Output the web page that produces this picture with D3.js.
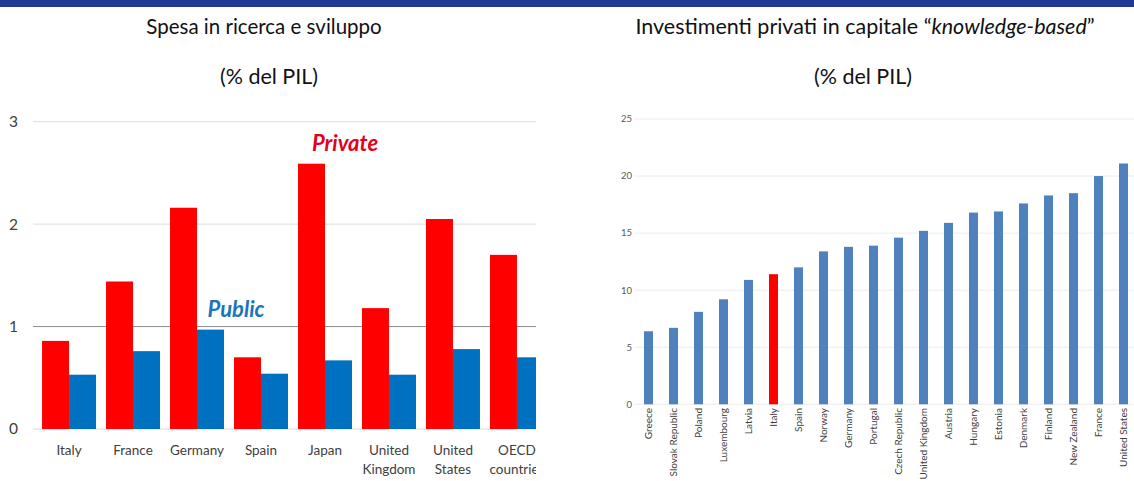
<!DOCTYPE html>
<html>
<head>
<meta charset="utf-8">
<script src="https://cdn.jsdelivr.net/npm/d3@7"></script>
<style>
  body { margin: 0; background: #fff; }
  text { font-family: Lato, "Liberation Sans", sans-serif; }
</style>
</head>
<body>
<div id="canvas"></div>
<script>
// left chart: R&D spending, % of GDP
var rdCountries = ['Italy', 'France', 'Germany', 'Spain', 'Japan', 'United Kingdom', 'United States', 'OECD countries'];
var rdPrivate = [0.86, 1.44, 2.16, 0.70, 2.59, 1.18, 2.05, 1.70];
var rdPublic = [0.53, 0.76, 0.97, 0.54, 0.67, 0.53, 0.78, 0.70];
var rdTicks = [0, 1, 2, 3];

// right chart: private knowledge-based capital investment, % of GDP
var kbCountries = ['Greece', 'Slovak Republic', 'Poland', 'Luxembourg', 'Latvia', 'Italy', 'Spain', 'Norway',
  'Germany', 'Portugal', 'Czech Republic', 'United Kingdom', 'Austria', 'Hungary', 'Estonia', 'Denmark',
  'Finland', 'New Zealand', 'France', 'United States'];
var kbValues = [6.4, 6.7, 8.1, 9.2, 10.9, 11.4, 12.0, 13.4, 13.8, 13.9, 14.6, 15.2, 15.9, 16.8, 16.9, 17.6,
  18.3, 18.5, 20.0, 21.1];
var kbTicks = [0, 5, 10, 15, 20, 25];

var W = 1134, H = 481;
var svg = d3.select('#canvas').append('svg')
  .attr('width', W)
  .attr('height', H)
  .style('display', 'block');

// top band
svg.append('rect').attr('x', 0).attr('y', 0).attr('width', W).attr('height', 7).attr('fill', '#203a93');

// titles
svg.append('text').attr('x', 264).attr('y', 34).attr('text-anchor', 'middle')
  .attr('font-size', 20.5).attr('fill', '#111').text('Spesa in ricerca e sviluppo');
svg.append('text').attr('x', 269).attr('y', 84).attr('text-anchor', 'middle')
  .attr('font-size', 21.5).attr('fill', '#111').text('(% del PIL)');

var t2 = svg.append('text').attr('x', 865).attr('y', 34).attr('text-anchor', 'middle')
  .attr('font-size', 21.5).attr('fill', '#111');
t2.append('tspan').text('Investimenti privati in capitale \u201C');
t2.append('tspan').attr('font-style', 'italic').text('knowledge-based');
t2.append('tspan').text('\u201D');
svg.append('text').attr('x', 863).attr('y', 84).attr('text-anchor', 'middle')
  .attr('font-size', 21.5).attr('fill', '#111').text('(% del PIL)');

// ---------- left chart ----------
svg.append('clipPath').attr('id', 'leftclip')
  .append('rect').attr('x', 0).attr('y', 100).attr('width', 536).attr('height', 381);

var left = svg.append('g').attr('clip-path', 'url(#leftclip)');

var y1 = d3.scaleLinear().domain([0, 3]).range([429, 121.7]);
var x1 = d3.scaleBand().domain(rdCountries).range([35, 551]).paddingInner(0.156).paddingOuter(0.11);
var xs = d3.scaleBand().domain(['private', 'public']).range([0, x1.bandwidth()]);

left.selectAll('.grid')
  .data(rdTicks)
  .enter().append('line')
  .attr('x1', 33).attr('x2', 540)
  .attr('y1', function(d) { return y1(d); })
  .attr('y2', function(d) { return y1(d); })
  .attr('stroke', function(d) { return d == 1 ? '#8c8c8c' : '#dcdcdc'; })
  .attr('stroke-width', 1);

svg.selectAll('.ylab1')
  .data(rdTicks)
  .enter().append('text')
  .attr('x', 18).attr('y', function(d) { return y1(d); })
  .attr('dy', '0.35em').attr('text-anchor', 'end')
  .attr('font-size', 15.5).attr('fill', '#404040')
  .text(function(d) { return d; });

var groups = left.selectAll('.grp')
  .data(rdCountries)
  .enter().append('g')
  .attr('transform', function(d) { return 'translate(' + x1(d) + ',0)'; });

groups.append('rect')
  .attr('x', xs('private')).attr('width', xs.bandwidth())
  .attr('y', function(d, i) { return y1(rdPrivate[i]); })
  .attr('height', function(d, i) { return y1(0) - y1(rdPrivate[i]); })
  .attr('fill', '#ff0000');

groups.append('rect')
  .attr('x', xs('public')).attr('width', xs.bandwidth())
  .attr('y', function(d, i) { return y1(rdPublic[i]); })
  .attr('height', function(d, i) { return y1(0) - y1(rdPublic[i]); })
  .attr('fill', '#0070c0');

groups.each(function(d) {
  var words = d.split(' ');
  var lines = words.length > 1 ? [words[0], words.slice(1).join(' ')] : [d];
  var g = d3.select(this);
  lines.forEach(function(l, j) {
    g.append('text')
      .attr('x', x1.bandwidth() / 2)
      .attr('y', 455 + j * 19)
      .attr('text-anchor', 'middle')
      .attr('font-size', 13.5).attr('fill', '#404040')
      .text(l);
  });
});

left.append('text').attr('x', 345).attr('y', 151).attr('text-anchor', 'middle')
  .attr('font-size', 22).attr('font-weight', 'bold').attr('font-style', 'italic')
  .attr('fill', '#e3001b').text('Private');
left.append('text').attr('x', 236).attr('y', 317).attr('text-anchor', 'middle')
  .attr('font-size', 22).attr('font-weight', 'bold').attr('font-style', 'italic')
  .attr('fill', '#1b75bb').text('Public');

// ---------- right chart ----------
var y2 = d3.scaleLinear().domain([0, 25]).range([404.3, 119]);
var x2 = d3.scaleBand().domain(kbCountries).range([636, 1136]).paddingInner(0.64).paddingOuter(0.32);

svg.selectAll('.grid2')
  .data(kbTicks)
  .enter().append('line')
  .attr('x1', 635).attr('x2', W)
  .attr('y1', function(d) { return y2(d); })
  .attr('y2', function(d) { return y2(d); })
  .attr('stroke', '#ececec').attr('stroke-width', 1);

svg.selectAll('.ylab2')
  .data(kbTicks)
  .enter().append('text')
  .attr('x', 632).attr('y', function(d) { return y2(d); })
  .attr('dy', '0.35em').attr('text-anchor', 'end')
  .attr('font-size', 9.5).attr('fill', '#595959')
  .text(function(d) { return d; });

svg.selectAll('.kbar')
  .data(kbCountries)
  .enter().append('rect')
  .attr('x', function(d) { return x2(d); })
  .attr('width', x2.bandwidth())
  .attr('y', function(d, i) { return y2(kbValues[i]); })
  .attr('height', function(d, i) { return y2(0) - y2(kbValues[i]); })
  .attr('fill', function(d) { return d == 'Italy' ? '#ff0000' : '#4f81bd'; });

svg.selectAll('.xlab2')
  .data(kbCountries)
  .enter().append('text')
  .attr('transform', function(d) {
    return 'translate(' + (x2(d) + x2.bandwidth() / 2) + ',408) rotate(-90)';
  })
  .attr('dy', '0.35em').attr('text-anchor', 'end')
  .attr('font-size', 10).attr('fill', '#404040')
  .text(function(d) { return d; });
</script>
</body>
</html>
